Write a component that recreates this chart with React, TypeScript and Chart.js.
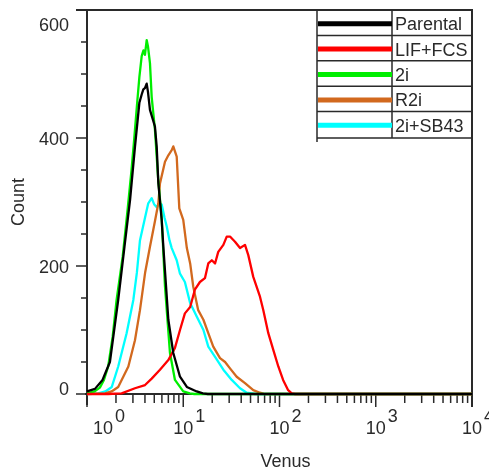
import React, { useEffect, useRef } from "react";
import { Chart, registerables } from "chart.js";

Chart.register(...registerables);

// ---------- data ----------
const seriesNames = ["Parental", "LIF+FCS", "2i", "R2i", "2i+SB43"];
const seriesColors = ["#000000", "#ff0000", "#00ee00", "#d2691e", "#00ffff"];

const parentalX = [1.0, 1.21, 1.45, 1.73, 2.11, 2.45, 2.8, 3.15, 3.5, 3.7, 3.85, 4.0, 4.17, 4.3, 4.51, 5.08, 5.3, 5.51, 5.97, 6.21, 7.0, 7.88, 9.25, 10.9, 13.8, 16, 18, 10000];
const parentalY = [4, 8, 22, 50, 147, 230, 303, 386, 455, 468, 476, 478, 485, 472, 444, 418, 386, 330, 272, 230, 116, 64, 27, 11, 4, 1, 0, 0];

const lifX = [1.0, 1.66, 2.29, 3.15, 4.01, 4.7, 5.73, 7.0, 8.2, 9.25, 10.4, 11.8, 13.2, 14.9, 16.8, 18.2, 19.8, 21.4, 23.1, 26.1, 28.3, 30.6, 34.5, 38.9, 43.8, 47.4, 53.4, 62.7, 67.9, 76.5, 86.2, 97.2, 109, 123, 134, 145, 10000];
const lifY = [0, 0, 1, 9, 14, 24, 38, 53, 72, 100, 126, 136, 163, 175, 181, 204, 209, 204, 222, 233, 246, 246, 238, 228, 233, 217, 183, 152, 131, 95, 69, 43, 22, 6, 1, 0, 0];

const twoIX = [1.0, 1.2, 1.36, 1.5, 1.66, 1.85, 2.03, 2.35, 2.65, 2.9, 3.1, 3.3, 3.5, 3.7, 3.86, 4.0, 4.17, 4.3, 4.51, 4.7, 5.08, 5.5, 5.97, 6.46, 7.28, 8.2, 10, 11.7, 13, 10000];
const twoIY = [1, 4, 10, 22, 43, 90, 147, 215, 290, 350, 400, 450, 495, 528, 537, 530, 553, 543, 517, 464, 413, 334, 275, 168, 64, 22, 4, 1, 0, 0];

const r2iX = [1.0, 1.54, 1.8, 2.11, 2.69, 3.15, 3.55, 4.01, 4.51, 5.08, 5.51, 5.73, 6.46, 7.0, 7.59, 7.88, 8.55, 9.1, 10, 10.9, 11.8, 12.7, 14.3, 16.2, 18.2, 20.5, 24.1, 27.2, 30.6, 35.9, 43.8, 53.4, 62.7, 70.7, 10000];
const r2iY = [0, 1, 4, 11, 43, 84, 131, 189, 230, 270, 298, 329, 363, 373, 381, 387, 371, 290, 272, 228, 204, 168, 131, 116, 95, 74, 56, 50, 40, 27, 17, 6, 2, 0, 0];

const sb43X = [1.0, 1.31, 1.55, 1.81, 2.11, 2.58, 3.03, 3.3, 3.55, 4.0, 4.33, 4.7, 5.0, 5.3, 5.6, 5.97, 6.4, 6.73, 7.2, 7.59, 8.55, 9.25, 10.4, 11.8, 13.8, 16.2, 18.2, 21.4, 26.1, 31.9, 38.9, 45.6, 55.6, 10000];
const sb43Y = [0, 1, 4, 11, 43, 95, 147, 190, 240, 275, 298, 306, 296, 292, 298, 296, 275, 262, 240, 228, 209, 188, 175, 142, 121, 100, 74, 58, 38, 22, 9, 2, 0, 0];

const seriesX = [parentalX, lifX, twoIX, r2iX, sb43X];
const seriesY = [parentalY, lifY, twoIY, r2iY, sb43Y];

const xExponents = [0, 1, 2, 3, 4];
const xMinorMultipliers = [2, 3, 4, 5, 6, 7, 8, 9];
const yTickLabels = [0, 200, 400, 600];
const yMinorStep = 50;
const X_MIN = 1;
const X_MAX = 10000;
const Y_MAX = 600;
const xTitle = "Venus";
const yTitle = "Count";

const FONT = '18px "Liberation Sans", Arial, sans-serif';
const INK = "#2a2a2a";

const flowPlugin = {
  id: "flowAxes",
  beforeDatasetsDraw(chart: any) {
    const { ctx, chartArea: a, scales } = chart;
    const xs = scales.x;
    const ys = scales.y;
    ctx.save();
    ctx.strokeStyle = INK;
    ctx.lineCap = "butt";
    const seg = (x1: number, y1: number, x2: number, y2: number, w: number) => {
      ctx.lineWidth = w;
      ctx.beginPath();
      ctx.moveTo(x1, y1);
      ctx.lineTo(x2, y2);
      ctx.stroke();
    };
    // frame & axes
    seg(a.left, a.top - 1, a.left, a.bottom + 11, 2);
    seg(a.left - 2, a.bottom, a.right, a.bottom, 2);
    seg(a.left - 11, a.top, a.right, a.top, 2);
    seg(a.right, a.top - 1, a.right, a.bottom + 13, 2);
    // y ticks
    for (let v = 0; v <= Y_MAX; v += yMinorStep) {
      const py = ys.getPixelForValue(v);
      const major = yTickLabels.includes(v);
      seg(a.left - (major ? 11 : 6), py, a.left, py, 1.5);
    }
    // x ticks
    for (const e of xExponents) {
      const base = Math.pow(10, e);
      const px = xs.getPixelForValue(base);
      seg(px, a.bottom, px, a.bottom + 13, 1.5);
      if (base < X_MAX) {
        for (const m of xMinorMultipliers) {
          const pm = xs.getPixelForValue(base * m);
          seg(pm, a.bottom, pm, a.bottom + 9, 1.5);
        }
      }
    }
    // labels
    ctx.fillStyle = INK;
    ctx.font = FONT;
    ctx.textBaseline = "alphabetic";
    ctx.textAlign = "right";
    for (const v of yTickLabels) {
      let cy = ys.getPixelForValue(v);
      if (v === Y_MAX) cy += 14;
      if (v === 0) cy -= 6;
      ctx.fillText(String(v), a.left - 18, cy + 6.5);
    }
    ctx.textAlign = "left";
    xExponents.forEach((e, i) => {
      let cx = xs.getPixelForValue(Math.pow(10, e));
      if (i === 0) cx += 16;
      const w = ctx.measureText("10").width;
      ctx.fillText("10", cx - w / 2, a.bottom + 40);
      ctx.fillText(String(e), cx + w / 2 + 2, a.bottom + 28);
    });
    // titles
    ctx.textAlign = "center";
    ctx.fillText(xTitle, (a.left + a.right) / 2 + 6, a.bottom + 73);
    ctx.save();
    ctx.translate(24, 202);
    ctx.rotate(-Math.PI / 2);
    ctx.fillText(yTitle, 0, 0);
    ctx.restore();
    ctx.restore();
  },
  afterDraw(chart: any) {
    const { ctx, chartArea: a } = chart;
    ctx.save();
    const L = 317;
    const R = a.right;
    const T = a.top;
    const rowH = 25.4;
    const div = 392;
    const B = T + rowH * seriesNames.length + 1;
    ctx.fillStyle = "#ffffff";
    ctx.fillRect(L, T, R - L, B - T);
    ctx.strokeStyle = INK;
    ctx.lineWidth = 1.5;
    ctx.beginPath();
    ctx.moveTo(L, T);
    ctx.lineTo(L, B + 4);
    ctx.moveTo(div, T);
    ctx.lineTo(div, B);
    for (let i = 1; i <= seriesNames.length; i++) {
      const yy = T + rowH * i + (i === seriesNames.length ? 1 : 0);
      ctx.moveTo(L, yy);
      ctx.lineTo(R, yy);
    }
    ctx.stroke();
    ctx.lineWidth = 2;
    ctx.beginPath();
    ctx.moveTo(L - 1, T);
    ctx.lineTo(R, T);
    ctx.moveTo(R, T);
    ctx.lineTo(R, B + 4);
    ctx.stroke();
    ctx.font = FONT;
    ctx.textAlign = "left";
    ctx.textBaseline = "alphabetic";
    seriesNames.forEach((name, i) => {
      const cy = T + rowH * i + rowH / 2 + 1;
      ctx.strokeStyle = seriesColors[i];
      ctx.lineWidth = 5;
      ctx.beginPath();
      ctx.moveTo(L + 1, cy);
      ctx.lineTo(div, cy);
      ctx.stroke();
      ctx.fillStyle = INK;
      ctx.fillText(name, div + 3, cy + 6.5);
    });
    ctx.restore();
  },
};

export default function App() {
  const ref = useRef<HTMLCanvasElement | null>(null);
  useEffect(() => {
    if (!ref.current) return;
    const datasets = seriesNames.map((name, i) => ({
      label: name,
      data: seriesX[i].map((x, j) => ({ x, y: seriesY[i][j] })),
      borderColor: seriesColors[i],
      backgroundColor: seriesColors[i],
      borderWidth: 2.3,
      borderJoinStyle: "round" as const,
      pointRadius: 0,
      tension: 0,
      fill: false,
      clip: 4,
    }));
    const chart = new Chart(ref.current, {
      type: "line",
      data: { datasets },
      options: {
        animation: false,
        responsive: false,
        devicePixelRatio: 1,
        layout: { padding: { left: 87, top: 10, right: 17, bottom: 79 } },
        plugins: { legend: { display: false }, tooltip: { enabled: false } },
        scales: {
          x: { type: "logarithmic", min: X_MIN, max: X_MAX, display: false },
          y: { type: "linear", min: 0, max: Y_MAX, display: false },
        },
      },
      plugins: [flowPlugin],
    });
    return () => chart.destroy();
  }, []);
  return (
    <div style={{ position: "fixed", left: 0, top: 0, width: 489, height: 473, background: "#fff" }}>
      <canvas ref={ref} width={489} height={473} style={{ width: 489, height: 473, display: "block" }} />
    </div>
  );
}
